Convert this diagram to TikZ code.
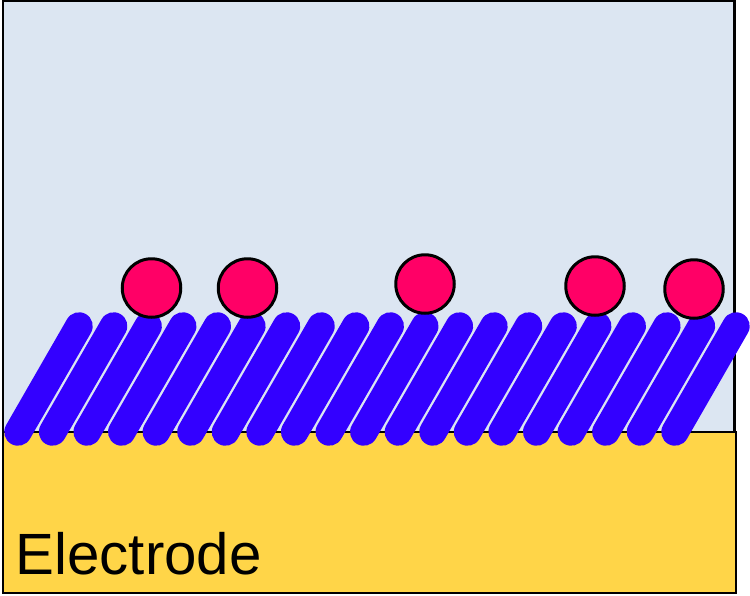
\documentclass[tikz,border=0pt]{standalone}
\usepackage{fontspec}
\setmainfont{Liberation Sans}
\definecolor{solution}{HTML}{DCE6F2}
\definecolor{metal}{HTML}{FFD548}
\definecolor{chain}{HTML}{3300FF}
\definecolor{probe}{HTML}{FF0066}
\tikzset{
  panel/.style={draw=black, line width=2.8pt},
  rod/.style={draw=chain, line width=27.5pt, line cap=round},
  redox/.style={circle, draw=black, fill=probe, line width=3pt, minimum size=58.5pt, inner sep=0pt},
}

\begin{document}
\begin{tikzpicture}[x=1pt, y=-1pt]
  \useasboundingbox (0,0) rectangle (750,595);
  \draw [panel, fill=solution] (3,1) rectangle (734.5,432);
  \draw [panel, fill=metal] (3,432) rectangle (736,593);

  \foreach \i in {0,...,19} {
    \draw [rod] ({18+34.58*\i},432) -- ({79+34.58*\i},326);
  }

  \node [redox] (p1) at (151.5,288) {};
  \node [redox] (p2) at (247.5,288) {};
  \node [redox] (p3) at (425,284) {};
  \node [redox] (p4) at (595,286) {};
  \node [redox] (p5) at (694,289) {};

  \node [anchor=base west, inner sep=0pt, font=\fontsize{58.2}{60}\selectfont] (electrode) at (15.5,574) {Electrode};
\end{tikzpicture}
\end{document}
